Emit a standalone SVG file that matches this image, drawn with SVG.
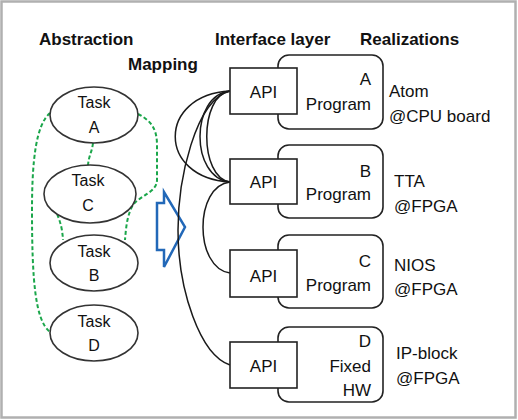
<svg xmlns="http://www.w3.org/2000/svg" width="518" height="420" viewBox="0 0 518 420">
<style>
text{font-family:"Liberation Sans",Arial,sans-serif;fill:#111}
.h{font-weight:bold;font-size:17px}
.t{font-size:16px;text-anchor:middle}
.p{font-size:17px;text-anchor:end}
.r{font-size:17px}
.a{font-size:17px;text-anchor:middle}
.ell{fill:#fff;stroke:#333;stroke-width:1.6}
.prog{fill:#fff;stroke:#222;stroke-width:1.6}
.api{fill:#fff;stroke:#222;stroke-width:1.6}
.g{fill:none;stroke:#1aa64a;stroke-width:2;stroke-dasharray:4 2.5}
.k{fill:none;stroke:#1a1a1a;stroke-width:1.5}
</style>
<rect x="1.5" y="1.5" width="514" height="416" fill="#fff" stroke="#b0b0b0" stroke-width="2.5"/>
<text class="h" x="39" y="45">Abstraction</text>
<text class="h" x="128" y="70">Mapping</text>
<text class="h" x="215" y="45">Interface layer</text>
<text class="h" x="360" y="45">Realizations</text>

<g id="green-links">
<path class="g" d="M50,113 C36,125 32,160 32,210 C32,280 35,320 50,332"/>
<path class="g" d="M138,114 C152,121 157,130 157,145 L157,180 C157,192 141,195 133,205 C127,215 126,228 125,240"/>
<path class="g" d="M93,143 C92,152 89,155 88,165"/>
<path class="g" d="M55,208 C59,220 62,224 63,240"/>
</g>

<g id="task-A"><ellipse class="ell" cx="94" cy="115" rx="44" ry="28"/><text class="t" x="94" y="108">Task</text><text class="t" x="94" y="133">A</text></g>
<g id="task-C"><ellipse class="ell" cx="90" cy="194" rx="46" ry="29"/><text class="t" x="88" y="186">Task</text><text class="t" x="88" y="211">C</text></g>
<g id="task-B"><ellipse class="ell" cx="94" cy="263" rx="44" ry="28"/><text class="t" x="94" y="257">Task</text><text class="t" x="94" y="281">B</text></g>
<g id="task-D"><ellipse class="ell" cx="94" cy="333" rx="44" ry="28"/><text class="t" x="94" y="327">Task</text><text class="t" x="94" y="351">D</text></g>

<g id="mapping-arrow">
<path d="M157,203 L164,203 L164,192 L185,227 L164,267 L164,250 L157,250 Z" fill="#fff" stroke="#2268b8" stroke-width="2.5" stroke-linejoin="miter"/>
</g>

<g id="connectors">
<path class="k" d="M230,91 C157,95 157,178 230,182"/>
<path class="k" d="M230,91 C190,95 190,178 230,182"/>
<path class="k" d="M230,91 C199,95 199,178 230,182"/>
<path class="k" d="M230,91 C195,100 178,180 178,230 C178,290 200,355 230,365"/>
<path class="k" d="M230,182 C194,186 194,268 230,273"/>
</g>

<g id="real-A">
<rect class="prog" x="278" y="55" width="105" height="74" rx="11"/>
<text class="p" x="371" y="85">A</text><text class="p" x="371" y="110">Program</text>
<rect class="api" x="230" y="68" width="67" height="46"/><text class="a" x="263.5" y="98">API</text>
<text class="r" x="389" y="97">Atom</text><text class="r" x="389" y="122">@CPU board</text>
</g>
<g id="real-B">
<rect class="prog" x="278" y="145" width="105" height="73" rx="11"/>
<text class="p" x="371" y="177">B</text><text class="p" x="371" y="200">Program</text>
<rect class="api" x="230" y="159" width="67" height="45"/><text class="a" x="263.5" y="188">API</text>
<text class="r" x="394" y="187">TTA</text><text class="r" x="394" y="212">@FPGA</text>
</g>
<g id="real-C">
<rect class="prog" x="278" y="235" width="105" height="73" rx="11"/>
<text class="p" x="371" y="267">C</text><text class="p" x="371" y="291">Program</text>
<rect class="api" x="230" y="250" width="67" height="47"/><text class="a" x="263.5" y="282">API</text>
<text class="r" x="394" y="271">NIOS</text><text class="r" x="394" y="295">@FPGA</text>
</g>
<g id="real-D">
<rect class="prog" x="278" y="327" width="105" height="75" rx="11"/>
<text class="p" x="371" y="347">D</text><text class="p" x="371" y="372">Fixed</text><text class="p" x="371" y="396">HW</text>
<rect class="api" x="230" y="342" width="67" height="46"/><text class="a" x="263.5" y="372">API</text>
<text class="r" x="396" y="359">IP-block</text><text class="r" x="396" y="384">@FPGA</text>
</g>
</svg>
